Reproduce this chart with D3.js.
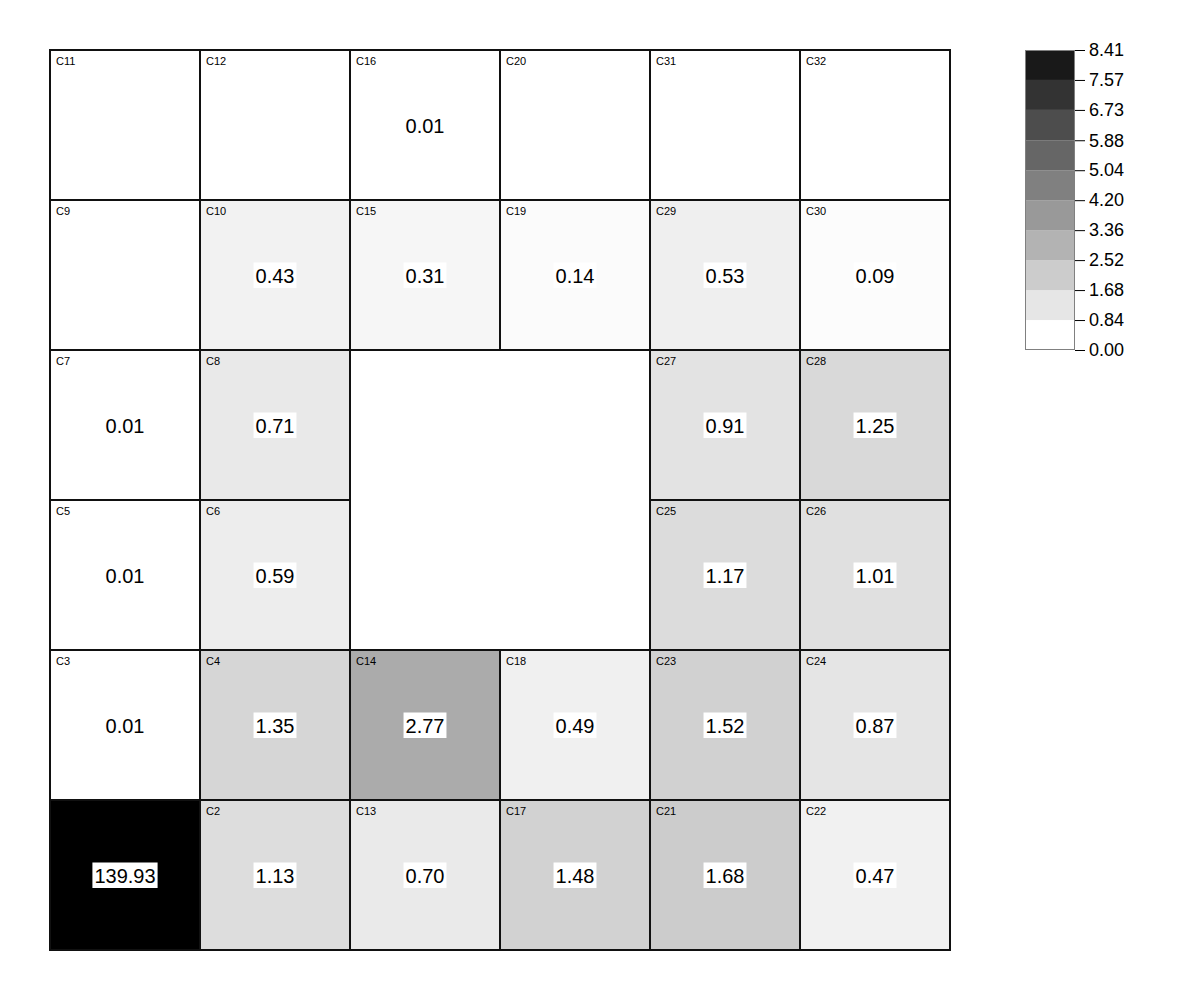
<!DOCTYPE html>
<html>
<head>
<meta charset="utf-8">
<script src="https://cdn.jsdelivr.net/npm/d3@7"></script>
<style>
  body { margin: 0; background: #fff; }
  svg { display: block; font-family: "Liberation Sans", Arial, Helvetica, sans-serif; }
</style>
</head>
<body>
<svg id="chart" width="1200" height="1000"></svg>
<script>
// ---- data ----
const rowIndex = [0, 1, 2, 3, 4, 5];
const colIndex = [0, 1, 2, 3, 4, 5];
const cellNames = [
  ["C11", "C12", "C16", "C20", "C31", "C32"],
  ["C9",  "C10", "C15", "C19", "C29", "C30"],
  ["C7",  "C8",  null,  null,  "C27", "C28"],
  ["C5",  "C6",  null,  null,  "C25", "C26"],
  ["C3",  "C4",  "C14", "C18", "C23", "C24"],
  ["C1",  "C2",  "C13", "C17", "C21", "C22"]
];
const cellValues = [
  [null, null, 0.01, null, null, null],
  [null, 0.43, 0.31, 0.14, 0.53, 0.09],
  [0.01, 0.71, null, null, 0.91, 1.25],
  [0.01, 0.59, null, null, 1.17, 1.01],
  [0.01, 1.35, 2.77, 0.49, 1.52, 0.87],
  [139.93, 1.13, 0.70, 1.48, 1.68, 0.47]
];
const colorMin = 0;
const colorMax = 8.41;
const legendTicks = [0.00, 0.84, 1.68, 2.52, 3.36, 4.20, 5.04, 5.88, 6.73, 7.57, 8.41];
const legendTickLabels = ["0.00", "0.84", "1.68", "2.52", "3.36", "4.20", "5.04", "5.88", "6.73", "7.57", "8.41"];

// ---- chart ----
const svg = d3.select("#chart");
const x = d3.scaleBand().domain(colIndex).range([50, 950]);
const y = d3.scaleBand().domain(rowIndex).range([50, 950]);
const color = d3.scaleLinear().domain([colorMin, colorMax]).range(["#ffffff", "#000000"]).clamp(true);

const cells = [];
rowIndex.forEach(r => colIndex.forEach(c => {
  if (cellNames[r][c] !== null) cells.push({ r, c, name: cellNames[r][c], value: cellValues[r][c] });
}));

const g = svg.append("g");
const cg = g.selectAll("g.cell").data(cells).enter().append("g").attr("class", "cell");

cg.append("rect")
  .attr("x", d => x(d.c))
  .attr("y", d => y(d.r))
  .attr("width", x.bandwidth())
  .attr("height", y.bandwidth())
  .attr("fill", d => d.value === null ? "#ffffff" : color(d.value))
  .attr("stroke", "#111")
  .attr("stroke-width", 2);

cg.append("text")
  .attr("x", d => x(d.c) + 6)
  .attr("y", d => y(d.r) + 15)
  .attr("font-size", 11)
  .attr("fill", "#000")
  .text(d => d.name);

const vg = cg.filter(d => d.value !== null).append("g").attr("class", "val");
vg.each(function(d) {
  const sel = d3.select(this);
  const t = sel.append("text")
    .attr("x", x(d.c) + x.bandwidth() / 2)
    .attr("y", y(d.r) + y.bandwidth() / 2 + 8)
    .attr("text-anchor", "middle")
    .attr("font-size", 20)
    .attr("fill", "#000")
    .text(d.value.toFixed(2));
  const bb = t.node().getBBox();
  sel.insert("rect", "text")
    .attr("x", bb.x - 2)
    .attr("y", bb.y - 2.5)
    .attr("width", bb.width + 4)
    .attr("height", bb.height + 3.5)
    .attr("fill", "#fff");
});

// ---- legend ----
const lx = 1025, lw = 50;
const ly = d3.scaleLinear().domain([colorMin, colorMax]).range([350, 50]);
const lg = svg.append("g");
lg.selectAll("rect.bin").data(d3.range(legendTicks.length - 1)).enter().append("rect")
  .attr("class", "bin")
  .attr("x", lx)
  .attr("y", i => ly(legendTicks[i + 1]))
  .attr("width", lw)
  .attr("height", i => ly(legendTicks[i]) - ly(legendTicks[i + 1]))
  .attr("fill", i => color(legendTicks[i]));
lg.append("rect")
  .attr("x", lx + 0.5).attr("y", 50.5)
  .attr("width", lw - 1).attr("height", 299)
  .attr("fill", "none").attr("stroke", "#808080").attr("stroke-width", 1);

const axis = d3.axisRight(ly)
  .tickValues(legendTicks)
  .tickFormat((d, i) => legendTickLabels[i])
  .tickSize(10)
  .tickPadding(4);
const ag = lg.append("g").attr("transform", `translate(${lx + lw},0)`).call(axis);
ag.select(".domain").remove();
ag.selectAll(".tick line").attr("stroke", "#000");
ag.selectAll(".tick text").attr("font-size", 18).attr("fill", "#000")
  .attr("font-family", '"Liberation Sans", Arial, Helvetica, sans-serif');
</script>
</body>
</html>
